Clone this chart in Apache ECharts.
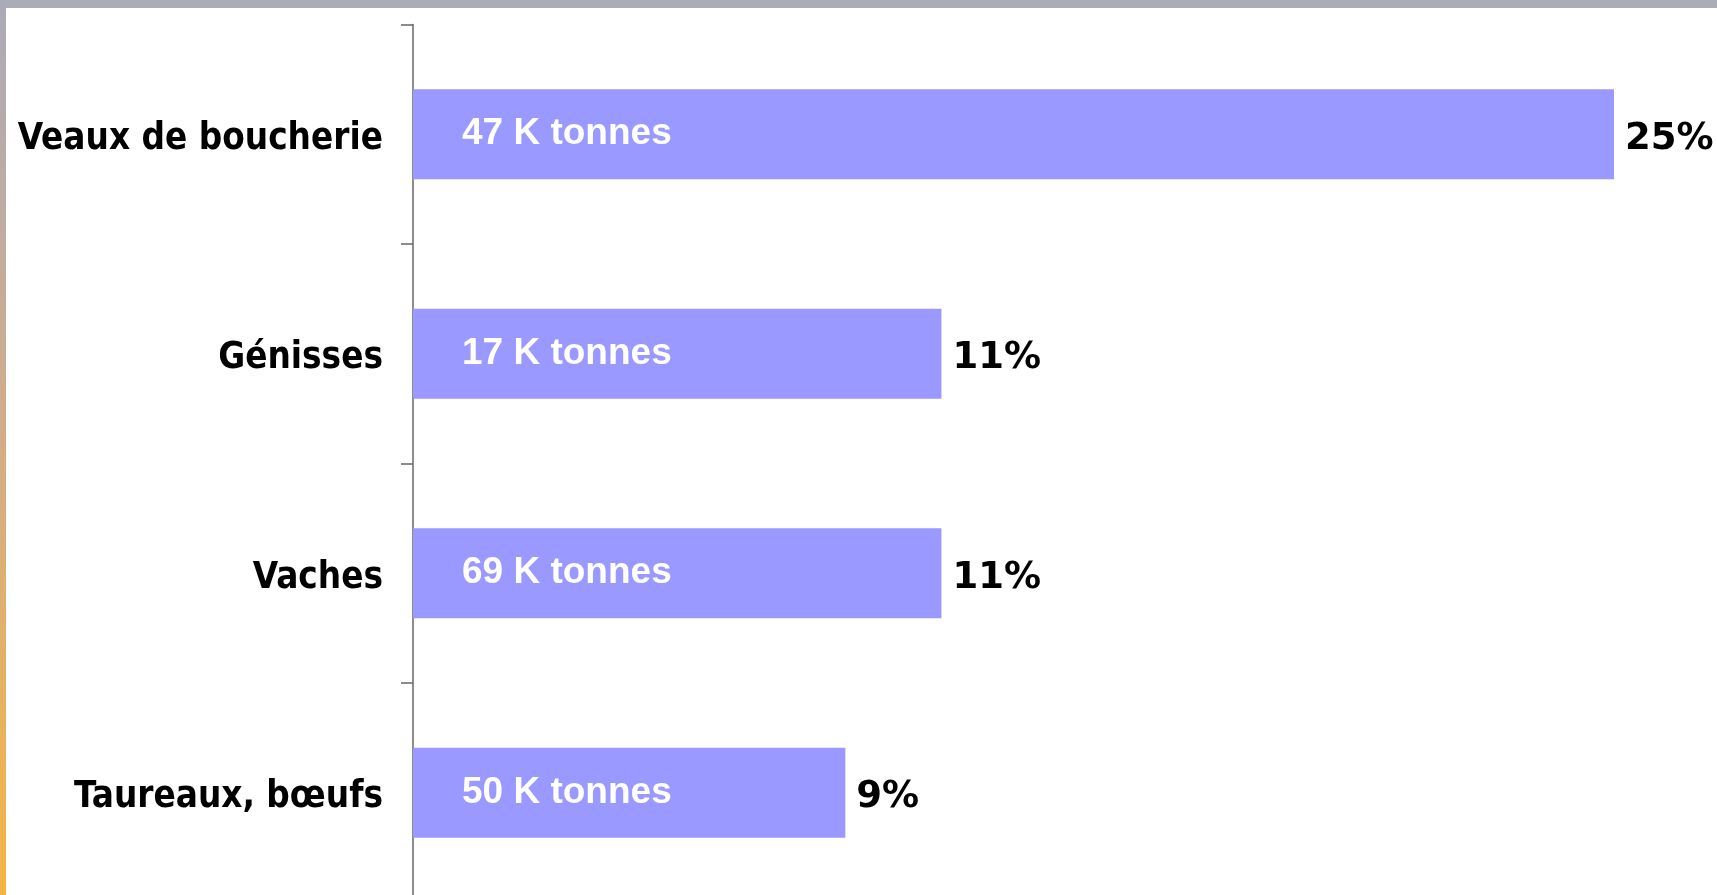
<!DOCTYPE html>
<html>
<head>
<meta charset="utf-8">
<script src="https://cdn.jsdelivr.net/npm/echarts@6/dist/echarts.min.js"></script>
<style>
  html, body { margin: 0; padding: 0; background: #fff; }
  #main { width: 1717px; height: 895px; }
</style>
</head>
<body>
<div id="main"></div>
<script>
// catégories et valeurs
var categories = ['Veaux de boucherie', 'Génisses', 'Vaches', 'Taureaux, bœufs'];
var shares = [25, 11, 11, 9];        // part en %
var tonnes = [47, 17, 69, 50];       // K tonnes

var myChart = echarts.init(document.getElementById('main'));

var option = {
    animation: false,
    graphic: [
        {   // bandeau gris du haut
            type: 'rect',
            shape: { x: 0, y: 0, width: 1717, height: 8 },
            style: { fill: '#ACABB8' },
            z: 10
        },
        {   // bandeau dégradé à gauche
            type: 'rect',
            shape: { x: 0, y: 0, width: 6, height: 895 },
            style: {
                fill: new echarts.graphic.LinearGradient(0, 0, 0, 1, [
                    { offset: 0, color: '#ABAAB8' },
                    { offset: 0.5, color: '#D4AD86' },
                    { offset: 1, color: '#F5B544' }
                ])
            },
            z: 10
        }
    ],
    grid: {
        left: 413,
        top: 24.5,
        width: 1201,
        height: 878,
        outerBoundsMode: 'none'
    },
    xAxis: {
        type: 'value',
        min: 0,
        max: 25,
        show: false
    },
    yAxis: {
        type: 'category',
        inverse: true,
        data: categories,
        axisLine: { show: true, lineStyle: { color: '#666', width: 1.5 } },
        axisTick: { show: true, length: 12, lineStyle: { color: '#666', width: 1.5 } },
        axisLabel: {
            margin: 30,
            formatter: function (v) { return '{a|' + v + '}'; },
            rich: {
                a: {
                    padding: [10, 0, 0, 0],
                    color: '#000',
                    fontFamily: 'DejaVu Sans Condensed',
                    fontWeight: 'bold',
                    fontSize: 36.5
                }
            }
        }
    },
    series: [
        {
            type: 'bar',
            data: shares,
            barWidth: '41%',
            itemStyle: { color: '#9999FF' },
            label: {
                show: true,
                position: 'insideLeft',
                distance: 0,
                offset: [49, 0],
                color: '#fff',
                fontFamily: 'Liberation Sans',
                fontWeight: 'bold',
                fontSize: 37,
                formatter: function (p) {
                    return tonnes[p.dataIndex] + ' K tonnes';
                }
            }
        },
        {
            // même longueur, invisible, pour porter le pourcentage à droite
            type: 'bar',
            data: shares,
            barWidth: '41%',
            barGap: '-100%',
            itemStyle: { color: 'rgba(0,0,0,0)' },
            label: {
                show: true,
                position: 'right',
                distance: 11,
                offset: [0, 5],
                color: '#000',
                fontFamily: 'DejaVu Sans',
                fontWeight: 'bold',
                fontSize: 37,
                formatter: '{c}%'
            }
        }
    ]
};

myChart.setOption(option);
</script>
</body>
</html>
